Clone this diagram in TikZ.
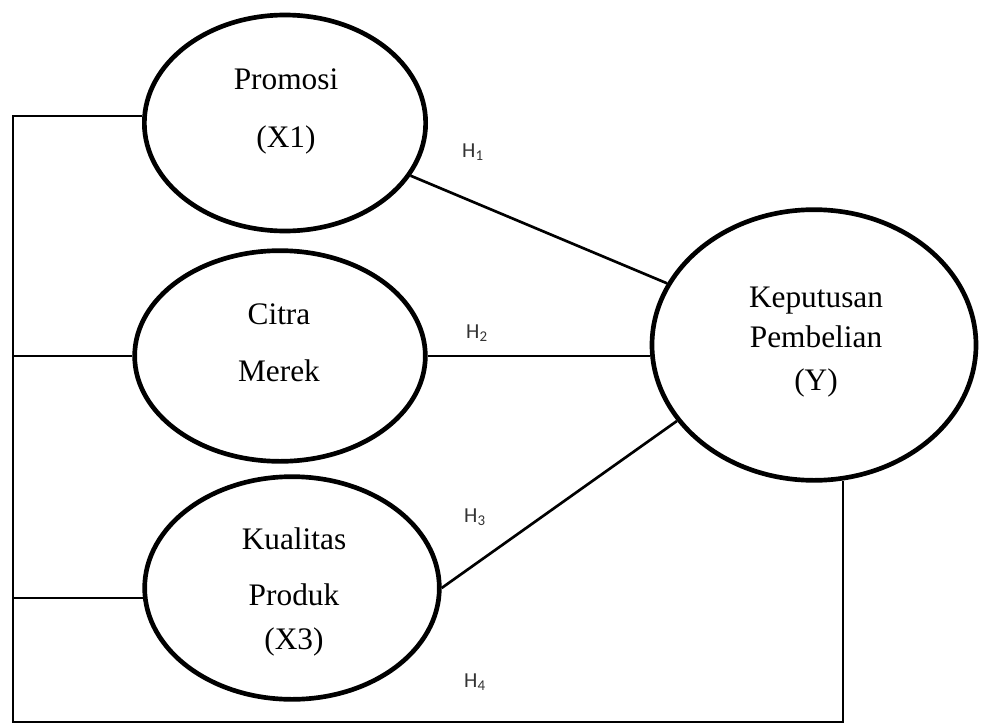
\documentclass[tikz,border=0pt]{standalone}
\usepackage{fontspec}
\setmainfont{Liberation Serif}
\newfontfamily\hypfont{Carlito}
\usepackage{tikz}
\usetikzlibrary{shapes,positioning,calc}

\tikzset{
  latent/.style={draw, ellipse, line width=3.5pt, inner sep=0pt},
  varname/.style={align=center, font=\fontsize{23.5}{30}\selectfont},
  hyp/.style={font=\hypfont\fontsize{16}{18}\selectfont, text=black!80},
  effect/.style={line width=2pt},
  bracket/.style={line width=1.5pt}
}

\begin{document}
\begin{tikzpicture}[x=0.75pt, y=-0.75pt]
    \useasboundingbox (0,0) rectangle (981,724);

    % variables
    \node (promosi) [latent, minimum width=211pt, minimum height=162pt] at (285,123) {};
    \node (citra) [latent, minimum width=218pt, minimum height=158pt] at (280,356) {};
    \node (kualitas) [latent, minimum width=221pt, minimum height=167pt] at (292,588) {};
    \node (keputusan) [latent, minimum width=243pt, minimum height=203pt] at (814,345) {};

    \node (promosiT) [varname] at (286,111) {Promosi\\[13.5pt](X1)};
    \node (citraT) [varname] at (279,343) {Citra\\[12.75pt]Merek};
    \node (kualitasT) [varname] at (294,592) {Kualitas\\[12pt]Produk\\[3pt](X3)};
    \node (keputusanT) [varname] at (816,342) {Keputusan\\Pembelian\\[2pt](Y)};

    % joint path H4
    \coordinate (corner) at (13,722);
    \draw[bracket] (promosi.177) -| (corner) -| (keputusan.282);
    \draw[bracket] (citra.west) -- (citra.west -| corner);
    \draw[bracket] (kualitas.184) -- (kualitas.184 -| corner);

    % partial paths
    \draw[effect] (promosi) -- (keputusan);
    \draw[effect] (citra.east) -- (citra.east -| keputusan.west);
    \draw[effect] (kualitas.east) -- (keputusan.209);

    \node (h1) [hyp] at (473,152) {H\textsubscript{1}};
    \node (h2) [hyp] at (477,333) {H\textsubscript{2}};
    \node (h3) [hyp] at (475,517) {H\textsubscript{3}};
    \node (h4) [hyp] at (475,682) {H\textsubscript{4}};
\end{tikzpicture}
\end{document}
